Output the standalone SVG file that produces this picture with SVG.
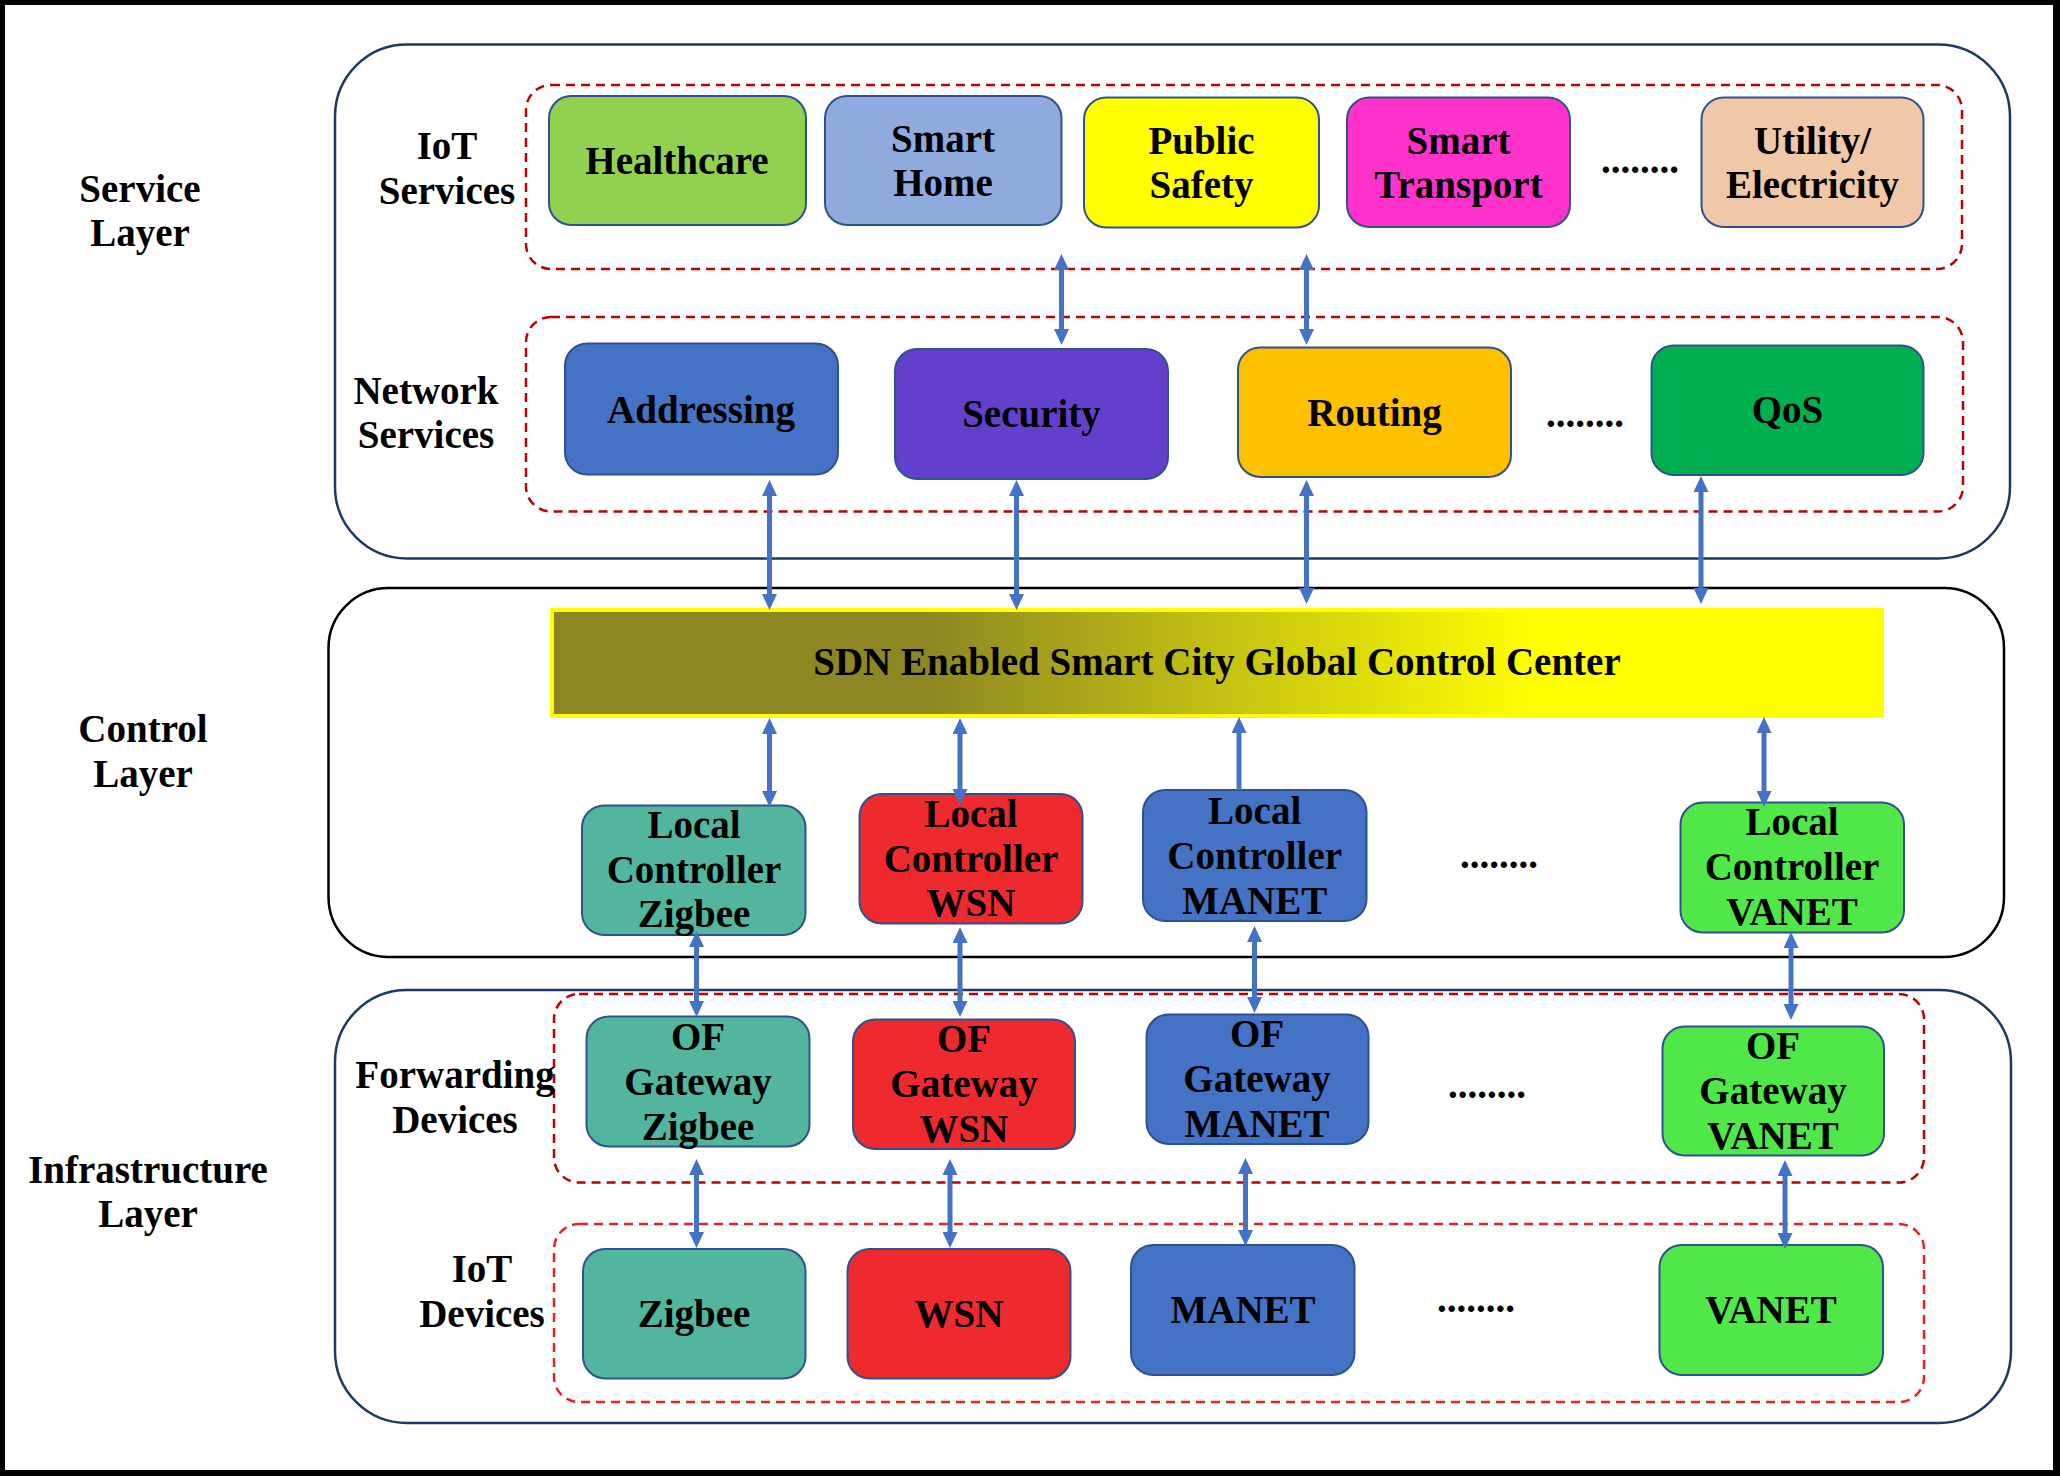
<svg xmlns="http://www.w3.org/2000/svg" width="2060" height="1476" viewBox="0 0 2060 1476">
<defs>
<style>
text{font-family:"Liberation Serif","Times New Roman",serif;font-weight:bold;font-size:39px;fill:#000;text-anchor:middle}
.node{stroke:#2f528f;stroke-width:2}
.outer{fill:none;stroke:#203864;stroke-width:2.5}
.dash{fill:none;stroke:#c00000;stroke-width:2.5;stroke-dasharray:9 6}
.dash2{fill:none;stroke:#ee2020;stroke-width:2.5;stroke-dasharray:9 6}
.conn line{stroke:#4472c4;stroke-width:5}
</style>
<marker id="ah" markerUnits="userSpaceOnUse" markerWidth="16" markerHeight="15" refX="5" refY="7.5" orient="auto-start-reverse" viewBox="0 0 16 15">
<path d="M0,0 L16,7.5 L0,15 z" fill="#4472c4"/>
</marker>
<linearGradient id="sdn" x1="0" y1="0" x2="1" y2="0">
<stop offset="0" stop-color="#8c8722"/>
<stop offset="0.28" stop-color="#8c8722"/>
<stop offset="0.74" stop-color="#ffff00"/>
<stop offset="1" stop-color="#ffff00"/>
</linearGradient>
</defs>
<rect x="0" y="0" width="2060" height="1476" fill="#000"/>
<rect x="5" y="5" width="2048" height="1465" fill="#fff"/>

<g id="layers">
<rect id="service-layer-box" class="outer" x="335" y="44.5" width="1675" height="514" rx="72" ry="72"/>
<rect id="control-layer-box" x="328.5" y="588" width="1675.5" height="369" rx="60" ry="60" fill="none" stroke="#000" stroke-width="2.5"/>
<rect id="infra-layer-box" class="outer" x="335" y="990" width="1676" height="433" rx="72" ry="72"/>
<rect class="dash" x="526" y="85" width="1436" height="184" rx="25"/>
<rect class="dash" x="526" y="317" width="1437" height="194.5" rx="25"/>
<rect class="dash" x="554" y="994" width="1370" height="188.5" rx="25"/>
<rect class="dash2" x="554" y="1224" width="1370" height="178" rx="25"/>
</g>

<g id="labels">
<text x="140" y="202">Service</text><text x="140" y="246">Layer</text>
<text x="447" y="159">IoT</text><text x="447" y="203.5">Services</text>
<text x="426" y="403.5">Network</text><text x="426" y="448">Services</text>
<text x="143" y="741.5">Control</text><text x="143" y="786.5">Layer</text>
<text x="455" y="1088">Forwarding</text><text x="455" y="1133">Devices</text>
<text x="148" y="1182.5">Infrastructure</text><text x="148" y="1226.5">Layer</text>
<text x="482" y="1281.5">IoT</text><text x="482" y="1326.5">Devices</text>
<text x="1640" y="173">........</text>
<text x="1585" y="427">........</text>
<text x="1499" y="868">........</text>
<text x="1487" y="1098">........</text>
<text x="1476" y="1311.5">........</text>
</g>

<g id="healthcare"><rect class="node" x="549" y="96" width="257" height="129" rx="22" fill="#92d050"/><text x="677" y="174">Healthcare</text></g>
<g id="smart-home"><rect class="node" x="825" y="96" width="236.5" height="129" rx="22" fill="#8faadc"/><text x="943" y="152">Smart</text><text x="943" y="196">Home</text></g>
<g id="public-safety"><rect class="node" x="1084" y="97.5" width="235" height="130" rx="22" fill="#ffff00"/><text x="1201.5" y="153.5">Public</text><text x="1201.5" y="197.5">Safety</text></g>
<g id="smart-transport"><rect class="node" x="1347" y="97.5" width="223" height="129.5" rx="22" fill="#ff33cc"/><text x="1458.5" y="153.5">Smart</text><text x="1458.5" y="197.5">Transport</text></g>
<g id="utility"><rect class="node" x="1701.5" y="97.5" width="222" height="129.5" rx="22" fill="#f0c8a8"/><text x="1812.5" y="153.5">Utility/</text><text x="1812.5" y="197.5">Electricity</text></g>

<g id="addressing"><rect class="node" x="565" y="343.5" width="273" height="131" rx="22" fill="#4472c4"/><text x="701" y="423">Addressing</text></g>
<g id="security"><rect class="node" x="895" y="349" width="273" height="130" rx="22" fill="#6340cc"/><text x="1031.5" y="427">Security</text></g>
<g id="routing"><rect class="node" x="1238" y="347.5" width="273" height="129.5" rx="22" fill="#ffc000"/><text x="1374.5" y="425.5">Routing</text></g>
<g id="qos"><rect class="node" x="1651.5" y="345.5" width="272" height="129.5" rx="22" fill="#00b050"/><text x="1787.5" y="423">QoS</text></g>

<g id="sdn-controller"><rect x="552" y="610" width="1330" height="106" fill="url(#sdn)" stroke="#ffff00" stroke-width="4"/><text x="1217" y="675">SDN Enabled Smart City Global Control Center</text></g>

<g id="lc-zigbee"><rect class="node" x="582" y="805.5" width="223.5" height="129.5" rx="22" fill="#52b69e"/><text x="694" y="838">Local</text><text x="694" y="883">Controller</text><text x="694" y="927">Zigbee</text></g>
<g id="lc-wsn"><rect class="node" x="859.5" y="794" width="223" height="129.5" rx="22" fill="#ee2a2e"/><text x="971" y="826.5">Local</text><text x="971" y="871.5">Controller</text><text x="971" y="916">WSN</text></g>
<g id="lc-manet"><rect class="node" x="1143" y="790" width="223.5" height="131" rx="22" fill="#4472c4"/><text x="1254.7" y="824">Local</text><text x="1254.7" y="869">Controller</text><text x="1254.7" y="914">MANET</text></g>
<g id="lc-vanet"><rect class="node" x="1680.5" y="802.5" width="223.5" height="130" rx="22" fill="#50e848"/><text x="1792" y="835">Local</text><text x="1792" y="880">Controller</text><text x="1792" y="925">VANET</text></g>

<g id="of-zigbee"><rect class="node" x="586.5" y="1016.5" width="223" height="130" rx="22" fill="#52b69e"/><text x="698" y="1050">OF</text><text x="698" y="1095">Gateway</text><text x="698" y="1140">Zigbee</text></g>
<g id="of-wsn"><rect class="node" x="853" y="1019.5" width="222" height="129.5" rx="22" fill="#ee2a2e"/><text x="964" y="1051.5">OF</text><text x="964" y="1096.5">Gateway</text><text x="964" y="1141.5">WSN</text></g>
<g id="of-manet"><rect class="node" x="1146.5" y="1014.5" width="222" height="129.5" rx="22" fill="#4472c4"/><text x="1257" y="1046.5">OF</text><text x="1257" y="1091.5">Gateway</text><text x="1257" y="1136.5">MANET</text></g>
<g id="of-vanet"><rect class="node" x="1662.5" y="1026.5" width="221.5" height="129" rx="22" fill="#50e848"/><text x="1773" y="1059">OF</text><text x="1773" y="1104">Gateway</text><text x="1773" y="1149">VANET</text></g>

<g id="dev-zigbee"><rect class="node" x="583" y="1249" width="222.5" height="129.5" rx="22" fill="#52b69e"/><text x="694" y="1326.5">Zigbee</text></g>
<g id="dev-wsn"><rect class="node" x="847.5" y="1249" width="223" height="129.5" rx="22" fill="#ee2a2e"/><text x="959" y="1326.5">WSN</text></g>
<g id="dev-manet"><rect class="node" x="1131" y="1245" width="223.5" height="130" rx="22" fill="#4472c4"/><text x="1243" y="1322.5">MANET</text></g>
<g id="dev-vanet"><rect class="node" x="1659.5" y="1245" width="223.5" height="130" rx="22" fill="#50e848"/><text x="1771" y="1322.5">VANET</text></g>

<g id="connectors" class="conn">
<line x1="1061.5" y1="265" x2="1061.5" y2="334" marker-start="url(#ah)" marker-end="url(#ah)"/>
<line x1="1306.5" y1="265" x2="1306.5" y2="334" marker-start="url(#ah)" marker-end="url(#ah)"/>
<line x1="769.5" y1="491" x2="769.5" y2="599" marker-start="url(#ah)" marker-end="url(#ah)"/>
<line x1="1016.5" y1="491" x2="1016.5" y2="599" marker-start="url(#ah)" marker-end="url(#ah)"/>
<line x1="1306.5" y1="491" x2="1306.5" y2="593" marker-start="url(#ah)" marker-end="url(#ah)"/>
<line x1="1701" y1="487" x2="1701" y2="593" marker-start="url(#ah)" marker-end="url(#ah)"/>
<line x1="769.5" y1="729" x2="769.5" y2="796" marker-start="url(#ah)" marker-end="url(#ah)"/>
<line x1="960" y1="729" x2="960" y2="794" marker-start="url(#ah)" marker-end="url(#ah)"/>
<line x1="1239" y1="728" x2="1239" y2="790" marker-start="url(#ah)"/>
<line x1="1764" y1="728" x2="1764" y2="796" marker-start="url(#ah)" marker-end="url(#ah)"/>
<line x1="696.5" y1="942" x2="696.5" y2="1006" marker-start="url(#ah)" marker-end="url(#ah)"/>
<line x1="960" y1="938" x2="960" y2="1006" marker-start="url(#ah)" marker-end="url(#ah)"/>
<line x1="1254.5" y1="937" x2="1254.5" y2="1002" marker-start="url(#ah)" marker-end="url(#ah)"/>
<line x1="1791" y1="943" x2="1791" y2="1009" marker-start="url(#ah)" marker-end="url(#ah)"/>
<line x1="696.5" y1="1170" x2="696.5" y2="1237" marker-start="url(#ah)" marker-end="url(#ah)"/>
<line x1="950" y1="1170" x2="950" y2="1237" marker-start="url(#ah)" marker-end="url(#ah)"/>
<line x1="1245.5" y1="1169" x2="1245.5" y2="1235" marker-start="url(#ah)" marker-end="url(#ah)"/>
<line x1="1785" y1="1171" x2="1785" y2="1238" marker-start="url(#ah)" marker-end="url(#ah)"/>
</g>
</svg>
